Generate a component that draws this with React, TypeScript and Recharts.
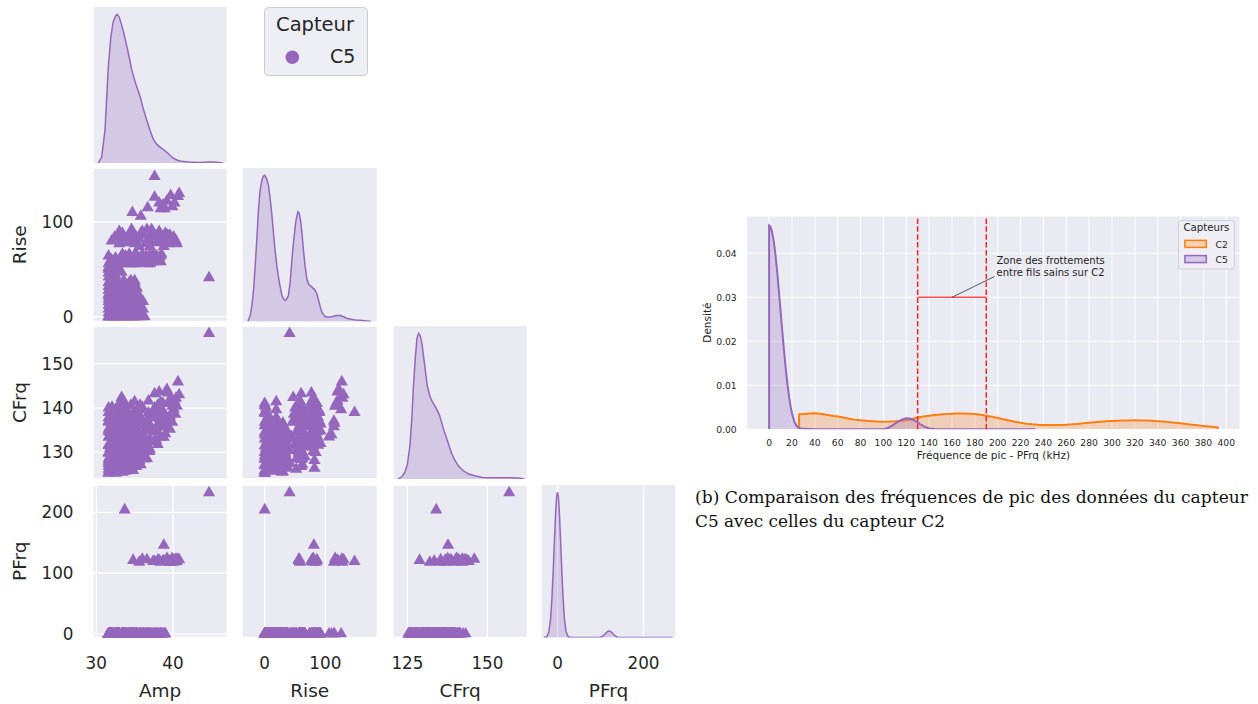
import React from 'react';
import {
  ComposedChart, Scatter, Area, XAxis, YAxis, ZAxis, CartesianGrid,
  ReferenceLine, ReferenceDot, Legend,
} from 'recharts';

const PURPLE = '#9467bd';
const ORANGE = '#ff7f0e';
const PANEL_BG = '#eaeaf2';
const INK = '#262626';
const SANS = '"DejaVu Sans", "Liberation Sans", Arial, sans-serif';
const PAGE_H = 704;

// ---------- Pair plot observations, capteur C5 : [Amp, Rise, CFrq, PFrq]
const lowRiseHits: number[][] = [
  [31.6, 0, 125.3, 0], [32.5, 0, 125.3, 0], [33.4, 0, 125.5, 0], [34.8, 0, 125.9, 0], [35.8, 0, 127.2, 0],
  [36.3, 0, 128.5, 0], [31.6, 0, 128.5, 0], [33.4, 0, 131.5, 0], [35.2, 0, 133, 0], [32.5, 0, 136, 0],
  [31.6, 0, 139, 0], [33.0, 0, 141, 0], [34.5, 0, 140.6, 0], [33.0, 0, 130.0, 0], [34.0, 0, 136.8, 0],
  [31.8, 0, 134.5, 0], [35.0, 0, 129.2, 0], [32.2, 0, 127.0, 0], [34.2, 0, 138.8, 0],
  [34.3, 3, 127.6, 0], [32.5, 3, 130.8, 0], [32.05, 4, 126.2, 0], [35.65, 4, 129.0, 0], [33.85, 4, 132.6, 0],
  [31.6, 4, 133.4, 0], [33.85, 2, 139.4, 0], [32.05, 2, 140.2, 0], [34.75, 2, 138.8, 0],
  [32.95, 6, 127.8, 0], [34.75, 6, 131.8, 0], [32.95, 6, 138.4, 0],
  [31.6, 8, 131.6, 0], [33.4, 8, 128.6, 0], [35.2, 8, 129.6, 0], [36.1, 8, 131, 0], [34.3, 8, 134.5, 0], [32.5, 8, 137.3, 0],
  [33.85, 10, 125.8, 0], [32.05, 10, 129.4, 0], [34.75, 10, 136.2, 0],
  [31.6, 12, 126.9, 0], [32.5, 12, 133.9, 0], [34.3, 12, 130.8, 0], [35.6, 12, 127.6, 0], [33.4, 12, 136.5, 0],
  [34.75, 14, 127.0, 0], [32.95, 14, 131.0, 0],
  [31.6, 16, 134.7, 0], [33.4, 16, 126.9, 0], [35.2, 16, 135, 0], [36.1, 16, 133.5, 0], [32.5, 16, 128.4, 0],
  [31.6, 19, 137.8, 0], [32.5, 19, 139.6, 0], [33.6, 19, 141.4, 0], [34.3, 19, 137.6, 0], [35.2, 19, 131.4, 0],
  [34.3, 19, 126.4, 0], [32.5, 19, 131.6, 0], [33.4, 19, 133.8, 0], [33.0, 19, 129.2, 0], [34.8, 19, 135.4, 0],
  [35.65, 20, 132.2, 0], [32.05, 22, 132.8, 0], [33.85, 22, 135.8, 0], [31.6, 22, 137.0, 0],
  [31.6, 24, 130, 0], [33.4, 24, 130.2, 0], [34.8, 24, 128.6, 0], [32.5, 24, 135.6, 0], [35.3, 24, 136.6, 0],
  [32.95, 26, 134.2, 0],
  [31.6, 28, 125.6, 0], [32.5, 28, 127.2, 0], [33.4, 28, 134.8, 0], [34.3, 28, 132.3, 0], [34.9, 28, 135.8, 0],
  [32.05, 30, 136.6, 0], [33.85, 30, 129.4, 0],
  [32.5, 32, 129.6, 0], [33.4, 32, 127.6, 0], [34.3, 32, 129.4, 0], [31.6, 32, 135.2, 0],
  [32.05, 34, 127.0, 0], [34.75, 34, 133.6, 0],
  [31.6, 36, 128, 0], [32.5, 36, 132.4, 0], [33.4, 36, 135, 0], [34.3, 36, 126.4, 0], [35.0, 36, 131.6, 0],
];

const lowRiseFill: number[][] = [
  [31.8, 2, 126.0, 0], [33.6, 2, 129.0, 0], [35.3, 2, 131.0, 0], [32.7, 2, 134.6, 0], [34.5, 2, 137.0, 0],
  [32.7, 6, 125.8, 0], [34.5, 6, 128.2, 0], [31.8, 6, 130.2, 0], [33.6, 6, 133.4, 0], [35.3, 6, 136.0, 0],
  [33.6, 10, 126.8, 0], [35.3, 10, 128.0, 0], [32.7, 10, 129.6, 0], [31.8, 10, 135.4, 0], [34.5, 10, 132.6, 0],
  [31.8, 14, 128.2, 0], [34.5, 14, 126.2, 0], [33.6, 14, 131.0, 0], [32.7, 14, 136.6, 0], [35.3, 14, 133.8, 0],
  [32.7, 18, 127.0, 0], [35.3, 18, 129.8, 0], [31.8, 18, 132.0, 0], [34.5, 18, 134.2, 0], [33.6, 18, 137.4, 0],
  [33.6, 22, 128.0, 0], [31.8, 22, 126.0, 0], [34.5, 22, 131.2, 0], [32.7, 22, 133.0, 0], [35.3, 22, 135.0, 0],
  [31.8, 26, 129.2, 0], [33.6, 26, 125.8, 0], [34.5, 26, 136.0, 0], [32.7, 26, 131.4, 0], [35.3, 26, 132.8, 0],
  [32.7, 30, 125.6, 0], [34.5, 30, 127.6, 0], [31.8, 30, 133.8, 0], [33.6, 30, 131.8, 0], [35.3, 30, 130.4, 0],
  [33.6, 34, 130.0, 0], [31.8, 34, 131.0, 0], [32.7, 34, 135.0, 0], [34.5, 34, 129.6, 0],
  [31.8, 38, 134.0, 0], [32.7, 38, 126.6, 0], [33.6, 38, 133.0, 0], [34.5, 38, 131.0, 0], [35.0, 38, 128.0, 0],
];

const midRiseHits: number[][] = [
  [31.6, 42, 127.5, 0], [32.5, 44, 133.2, 0], [31.6, 46, 136.8, 0], [32.2, 40, 130.5, 0], [32.9, 48, 138.6, 0],
  [31.6, 52, 126.2, 0], [32.5, 52, 128.5, 0], [31.8, 50, 131.8, 0], [32.7, 52, 134.6, 0], [31.6, 50, 140.0, 0],
  [32.9, 51, 130.4, 0], [33.3, 47, 142.4, 0], [32.2, 48, 137.4, 0], [31.8, 44, 133.6, 0],
  [33.4, 56, 130.2, 0], [34.3, 58, 132.2, 0], [35.2, 56, 134.4, 0], [36.1, 58, 136.2, 0], [37.0, 56, 138.4, 0],
  [33.4, 58, 139.8, 0], [35.2, 60, 126.8, 0], [31.6, 56, 129.8, 0], [32.5, 58, 135.8, 0], [34.3, 56, 137.0, 0],
  [36.1, 60, 129.8, 0], [37.9, 58, 134.6, 0], [33.4, 62, 127.2, 0], [37.0, 60, 130.6, 0], [32.5, 62, 132.2, 0],
  [35.2, 62, 139.2, 0], [36.5, 64, 131.6, 0], [38.2, 62, 137.6, 0], [33.8, 64, 133.4, 0], [37.6, 60, 143.2, 0],
  [31.6, 64, 131.6, 0], [33.4, 66, 136.8, 0], [34.3, 66, 129, 0], [37.0, 66, 133.0, 0], [38.5, 66, 135.8, 0],
  [35.2, 66, 137.6, 0], [36.6, 62, 128.6, 0], [37.5, 66, 132.4, 0], [38.4, 58, 133.4, 0], [37.9, 64, 139.4, 0],
  [36.8, 58, 141.6, 0], [35.7, 62, 140.6, 0], [34.7, 60, 135.0, 0], [36.0, 66, 134.0, 0],
  [32.0, 60, 136.0, 0], [33.0, 60, 128.4, 0], [34.0, 62, 138.2, 0], [34.9, 64, 131.2, 0], [35.8, 58, 138.0, 0],
  [36.9, 62, 135.0, 0], [37.8, 60, 132.8, 0], [38.4, 64, 138.4, 0],
  [34.8, 56, 128.8, 121], [35.6, 58, 132, 118], [36.6, 56, 135.4, 122], [37.4, 58, 138.2, 119], [36.0, 57, 140.2, 123],
];

const highRiseHits: number[][] = [
  [32.0, 80, 131.2, 0], [32.8, 86, 134.6, 0], [33.6, 82, 137.9, 0], [34.4, 88, 133.0, 0], [35.2, 84, 135.4, 0],
  [36.0, 90, 137.0, 0], [36.8, 82, 138.9, 0], [37.6, 86, 140.0, 0], [38.4, 80, 141.3, 0], [39.0, 88, 136.4, 0],
  [33.0, 90, 139.3, 0], [34.6, 92, 136.4, 0], [37.2, 92, 134.8, 0],
  [33.3, 82, 126.4, 0], [35.6, 82, 128.2, 0], [34.2, 84, 130.0, 0],
  [33.0, 77, 140.6, 0], [35.0, 77, 141.4, 0],
  [36.4, 77, 132.6, 0], [38.0, 78, 131.8, 0], [37.0, 74, 136.2, 0], [38.8, 74, 139.0, 0], [35.6, 74, 134.0, 0],
  [38.6, 84, 138.6, 0], [37.3, 88, 137.8, 0], [36.2, 86, 133.8, 0], [36.9, 80, 130.2, 0], [34.0, 78, 138.4, 0],
  [32.4, 84, 136.0, 0], [33.4, 88, 131.6, 0], [34.8, 80, 137.2, 0], [35.8, 88, 139.6, 0], [36.6, 92, 132.0, 0],
  [37.8, 84, 135.6, 0], [38.2, 90, 139.0, 0], [39.0, 82, 134.2, 0],
  [39.4, 77, 143.4, 120], [38.8, 78, 133.4, 120], [39.6, 80, 135.2, 118], [40.3, 78, 138.6, 122],
  [39.2, 80, 137.6, 124], [38.0, 79, 140.6, 121], [40.5, 77, 140.4, 119], [40.4, 80, 142.2, 123],
  [39.6, 86, 138.2, 120], [39.3, 86, 141.0, 122], [39.9, 79, 136.8, 121], [40.1, 84, 139.8, 118],
  [38.8, 81, 137.7, 146],
];

const longRiseHits: number[][] = [
  [34.7, 110, 134.0, 0], [36.7, 115, 136.6, 0], [37.6, 126, 139.6, 0], [38.9, 114, 135.8, 0], [35.8, 106, 133.5, 0],
  [38.7, 118, 141.0, 120], [39.7, 128, 142.2, 118], [40.8, 130, 143.0, 122], [37.6, 148, 139.0, 119],
  [38.2, 120, 143.6, 121], [39.2, 122, 144.2, 119], [39.9, 116, 140.4, 124], [40.2, 120, 141.6, 120],
  [38.4, 114, 137.0, 118], [40.65, 127, 145.9, 123],
];

const isolatedHits: number[][] = [
  [44.7, 41, 156.8, 232], [33.7, 0, 134.0, 204],
];

const OBS = [...lowRiseHits, ...lowRiseFill, ...midRiseHits, ...highRiseHits, ...longRiseHits, ...isolatedHits]
  .map(([amp, rise, cfrq, pfrq]) => ({ amp, rise, cfrq, pfrq }));

// ---------- Diagonal densities (normalised height) : [value, density]
const ampDensity: number[][] = [
  [30.26, 0], [30.7, 0.04], [31.13, 0.22], [31.57, 0.65], [31.9, 0.85], [32.2, 0.95], [32.5, 0.99], [32.74, 1.0],
  [33.0, 0.98], [33.3, 0.93], [33.6, 0.87], [33.96, 0.79], [34.3, 0.71], [34.6, 0.63], [35.1, 0.54], [35.7, 0.45],
  [36.1, 0.37], [36.57, 0.29], [37.0, 0.22], [37.43, 0.16], [37.9, 0.125], [38.3, 0.107], [38.8, 0.088],
  [39.2, 0.072], [39.6, 0.052], [40.0, 0.034], [40.5, 0.02], [41.1, 0.011], [42, 0.006], [43.5, 0.004],
  [44.5, 0.006], [45.25, 0.007], [46, 0.004], [46.5, 0],
];
const riseDensity: number[][] = [
  [-27.7, 0], [-24, 0.04], [-21, 0.11], [-18, 0.23], [-15.7, 0.38], [-13, 0.56], [-10.2, 0.77], [-7.5, 0.9],
  [-4.7, 0.966], [-2, 0.995], [0, 1.0], [3, 0.98], [6.3, 0.93], [9, 0.84], [11.8, 0.73], [15, 0.58], [17.5, 0.47],
  [20, 0.38], [24, 0.27], [28.3, 0.18], [31, 0.155], [33.8, 0.144], [36.5, 0.155], [39.2, 0.18], [42, 0.27],
  [44, 0.38], [46.5, 0.5], [49, 0.6], [51.5, 0.69], [54.7, 0.75], [57, 0.74], [59, 0.69], [61.3, 0.61], [64, 0.48],
  [66.5, 0.38], [69.5, 0.29], [72.5, 0.255], [77.8, 0.235], [82, 0.22], [86, 0.19], [89, 0.14], [91.5, 0.1],
  [94.3, 0.064], [98, 0.04], [101.5, 0.031], [105, 0.03], [110, 0.032], [115, 0.038], [120, 0.041], [124.6, 0.041],
  [130, 0.033], [134, 0.024], [138, 0.018], [145, 0.013], [150, 0.01], [157, 0.008], [165, 0.005], [175, 0],
];
const cfrqDensity: number[][] = [
  [122.1, 0], [123.2, 0.015], [124.2, 0.046], [125, 0.1], [125.8, 0.23], [126.4, 0.42], [126.9, 0.64], [127.5, 0.84],
  [128, 0.966], [128.5, 1.0], [129, 0.985], [129.6, 0.92], [130.4, 0.78], [131.2, 0.64], [132, 0.57], [132.8, 0.53],
  [133.9, 0.49], [135, 0.44], [135.8, 0.38], [136.6, 0.32], [137.7, 0.25], [138.75, 0.18], [139.8, 0.13],
  [140.9, 0.09], [142.5, 0.055], [144.2, 0.034], [146.3, 0.02], [148.5, 0.011], [152, 0.008], [155, 0.008],
  [157, 0.009], [159, 0.007], [160.3, 0.005], [161.5, 0],
];
const pfrqDensity: number[][] = [
  [-32, 0], [-25, 0.005], [-20, 0.04], [-16, 0.13], [-13, 0.27], [-10, 0.46], [-7, 0.68], [-4, 0.88], [-2, 0.97],
  [0, 1], [2, 0.97], [4, 0.88], [7, 0.68], [10, 0.46], [13, 0.27], [16, 0.13], [20, 0.04], [25, 0.005], [32, 0],
  [100, 0.002], [106, 0.011], [110, 0.022], [114, 0.035], [118, 0.044], [120, 0.045], [122, 0.044], [126, 0.035],
  [130, 0.022], [134, 0.011], [140, 0.002], [146, 0], [268, 0],
];

// ---------- Peak frequency densities (right chart) : [PFrq kHz, density]
const c2Density: number[][] = [
  [26.2, 0], [26.2, 0.0034], [30, 0.00348], [35, 0.00358], [40, 0.00362], [45, 0.00355], [50, 0.0033],
  [55, 0.0031], [60, 0.0029], [65, 0.0027], [70, 0.0024], [75, 0.0022], [80, 0.00205], [85, 0.00193],
  [90, 0.00185], [95, 0.00178], [100, 0.00174], [105, 0.00175], [110, 0.0018], [115, 0.00192], [120, 0.00208],
  [125, 0.00235], [130, 0.0027], [135, 0.0029], [140, 0.0031], [145, 0.00325], [150, 0.00338], [155, 0.00348],
  [160, 0.00356], [165, 0.0036], [170, 0.0036], [175, 0.00356], [180, 0.00346], [185, 0.0033], [190, 0.0031],
  [195, 0.00285], [200, 0.00257], [205, 0.00228], [210, 0.002], [215, 0.00172], [220, 0.00148], [225, 0.00128],
  [230, 0.00113], [235, 0.00103], [240, 0.00097], [245, 0.00095], [250, 0.00096], [255, 0.00099], [260, 0.00104],
  [265, 0.00112], [270, 0.00123], [275, 0.00136], [280, 0.00149], [285, 0.00161], [290, 0.00172], [295, 0.00182],
  [300, 0.0019], [305, 0.00196], [310, 0.002], [315, 0.00202], [320, 0.00203], [325, 0.00202], [330, 0.00199],
  [335, 0.00193], [340, 0.00185], [345, 0.00175], [350, 0.00163], [355, 0.0015], [360, 0.00135], [365, 0.0012],
  [370, 0.00104], [375, 0.0009], [380, 0.00075], [385, 0.00062], [390, 0.0005], [392.5, 0.00045], [392.5, 0],
];
const c5Density: number[][] = [
  [0, 0], [0, 0.0463], [1, 0.0461], [2.5, 0.045], [4, 0.0428], [5.5, 0.0398], [7, 0.036], [8.5, 0.0316],
  [10, 0.027], [11.5, 0.0224], [13, 0.018], [14.5, 0.0139], [16, 0.0103], [17.5, 0.0073], [19, 0.0049],
  [20.5, 0.0031], [22, 0.0018], [24, 0.0008], [26, 0.0003], [30, 0.0001], [40, 0], [100, 0], [104, 0.0003],
  [108, 0.0009], [112, 0.0016], [116, 0.0022], [120, 0.0025], [124, 0.0024], [128, 0.0019], [132, 0.0012],
  [136, 0.0006], [140, 0.0002], [145, 0.00005], [150, 0], [233, 0],
];
const FREQ_TICKS = [0, 20, 40, 60, 80, 100, 120, 140, 160, 180, 200, 220, 240, 260, 280, 300, 320, 340, 360, 380, 400];
const DENSITY_TICKS = [0, 0.01, 0.02, 0.03, 0.04];
const ZONE_LIMITS = [130, 190];
const ZONE_LEVEL = 0.03;

// ---------- Pair plot layout
const VARS = ['amp', 'rise', 'cfrq', 'pfrq'];
const VAR_LABELS = ['Amp', 'Rise', 'CFrq', 'PFrq'];
const X_TICKS: Record<string, number[]> = { amp: [30, 40], rise: [0, 100], cfrq: [125, 150], pfrq: [0, 200] };
const Y_TICKS: Record<string, number[]> = { rise: [0, 100], cfrq: [130, 140, 150], pfrq: [0, 100, 200] };
const X_DOMAIN: Record<string, [number, number]> = {
  amp: [29.57, 47.08], rise: [-37.4, 185.7], cfrq: [120.5, 162.5], pfrq: [-38.4, 275.6],
};
const Y_DOMAIN: Record<string, [number, number]> = {
  rise: [-5.1, 157], cfrq: [124, 158.5], pfrq: [-5.8, 244.9],
};
const DIAG_DATA: Record<string, { x: number; h: number }[]> = {
  amp: ampDensity.map(([x, h]) => ({ x, h })),
  rise: riseDensity.map(([x, h]) => ({ x, h })),
  cfrq: cfrqDensity.map(([x, h]) => ({ x, h })),
  pfrq: pfrqDensity.map(([x, h]) => ({ x, h })),
};
const COLS = [{ l: 93, w: 134.3 }, { l: 242.3, w: 135.4 }, { l: 393.3, w: 134.4 }, { l: 540.5, w: 135 }];
const ROWS = [{ t: 7, h: 156 }, { t: 168, h: 153.5 }, { t: 326, h: 153 }, { t: 485, h: 152.5 }];
const TICK_FS = 16.8;
const LABEL_FS = 18.5;

function PairLegend() {
  return (
    <svg width={105} height={70} style={{ display: 'block', overflow: 'visible' }}>
      <rect x={0.5} y={0.5} width={103} height={68} rx={4} fill="#eeeef5" stroke="#cccccc" />
      <text x={51} y={23.5} textAnchor="middle" fontSize={19.5} fill={INK} fontFamily={SANS}>Capteur</text>
      <circle cx={28.3} cy={50.2} r={6.8} fill={PURPLE} />
      <text x={66} y={55.5} fontSize={19} fill={INK} fontFamily={SANS}>C5</text>
    </svg>
  );
}

function PairPanel({ r, c }: { r: number; c: number }) {
  const col = COLS[c];
  const row = ROWS[r];
  const showY = c === 0 && r > 0;
  const showX = r === 3;
  const yW = showY ? col.l : 0;
  const xH = showX ? PAGE_H - (row.t + row.h) : 0;
  const padV = showY && !showX ? 14 : 0;
  const padL = showX && c > 0 ? 20 : 0;
  const padR = showX ? 20 : 0;
  const W = col.w + yW + padL + padR;
  const H = row.h + xH + 2 * padV;
  const xv = VARS[c];
  const yv = VARS[r];
  const diag = r === c;
  const tickStyle = { fontSize: TICK_FS, fill: INK, fontFamily: SANS };
  return (
    <div style={{ position: 'absolute', left: col.l - yW - padL, top: row.t - padV, width: W, height: H }}>
      <ComposedChart width={W} height={H} margin={{ top: padV, right: padR, bottom: padV, left: padL }}
        data={diag ? DIAG_DATA[xv] : undefined}>
        <CartesianGrid fill={PANEL_BG} fillOpacity={1} stroke="#ffffff" strokeWidth={1.3} horizontal={!diag} />
        <XAxis type="number" dataKey={diag ? 'x' : xv} domain={X_DOMAIN[xv]} allowDataOverflow
          ticks={X_TICKS[xv]} interval={0} height={xH} tick={showX ? tickStyle : false}
          tickSize={0} tickMargin={19.5} axisLine={false} tickLine={false}
          label={showX ? () => (
            <text x={padL + yW + col.w / 2} y={row.h + 59.5} textAnchor="middle" fontSize={LABEL_FS}
              fill={INK} fontFamily={SANS}>{VAR_LABELS[c]}</text>
          ) : undefined} />
        <YAxis type="number" dataKey={diag ? 'h' : yv} domain={diag ? [0, 1.05] : Y_DOMAIN[yv]} allowDataOverflow
          ticks={diag ? [0] : Y_TICKS[yv]} interval={0} width={yW} tick={showY ? tickStyle : false}
          tickSize={0} tickMargin={19.5} axisLine={false} tickLine={false}
          label={showY ? () => (
            <text x={26.5} y={padV + row.h / 2} transform={`rotate(-90 26.5 ${padV + row.h / 2})`} textAnchor="middle"
              fontSize={LABEL_FS} fill={INK} fontFamily={SANS}>{VAR_LABELS[r]}</text>
          ) : undefined} />
        {!diag && <ZAxis type="number" range={[54, 54]} />}
        {diag && (
          <Area type="linear" dataKey="h" stroke={PURPLE} strokeWidth={1.5} fill={PURPLE} fillOpacity={0.25}
            dot={false} activeDot={false} isAnimationActive={false} />
        )}
        {!diag && <Scatter data={OBS} fill={PURPLE} shape="triangle" isAnimationActive={false} />}
        {r === 0 && c === 0 && (
          <Legend layout="horizontal" verticalAlign="middle" align="center"
            wrapperStyle={{ position: 'absolute', left: 171, top: -0.5, width: 105, height: 70, margin: 0, padding: 0 }}
            content={() => <PairLegend />} />
        )}
      </ComposedChart>
    </div>
  );
}

// ---------- Right chart
const freqRows = [
  ...c2Density.map(([x, d]) => ({ x, c2: d } as { x: number; c2?: number; c5?: number })),
  ...c5Density.map(([x, d]) => ({ x, c5: d } as { x: number; c2?: number; c5?: number })),
].sort((a, b) => a.x - b.x);

function FreqLegend() {
  return (
    <svg width={57} height={50} style={{ display: 'block', overflow: 'visible' }}>
      <rect x={0.5} y={0.5} width={56} height={48.5} rx={2.5} fill="#eeeef4" stroke="#cccccc" strokeWidth={0.8} />
      <text x={28.4} y={11.3} textAnchor="middle" fontSize={10.2} fill={INK} fontFamily={SANS}>Capteurs</text>
      <rect x={6.9} y={20.4} width={21.4} height={7} fill="#f5d0b2" stroke={ORANGE} strokeWidth={1.5} />
      <text x={37.5} y={28.3} fontSize={9.2} fill={INK} fontFamily={SANS}>C2</text>
      <rect x={6.9} y={35.6} width={21.4} height={7} fill="#d6cbe6" stroke={PURPLE} strokeWidth={1.5} />
      <text x={37.5} y={43.3} fontSize={9.2} fill={INK} fontFamily={SANS}>C5</text>
    </svg>
  );
}

function FreqChart() {
  const W = 568;
  const H = 264.3;
  const tick = { fontSize: 9.2, fill: INK, fontFamily: SANS };
  return (
    <div style={{ position: 'absolute', left: 690, top: 205, width: W, height: H }}>
      <ComposedChart width={W} height={H} data={freqRows} margin={{ top: 11, right: 18, bottom: 0, left: 0 }}>
        <CartesianGrid fill={PANEL_BG} fillOpacity={1} stroke="#ffffff" strokeWidth={1} />
        <XAxis type="number" dataKey="x" domain={[-19.6, 412]} allowDataOverflow ticks={FREQ_TICKS} interval={0}
          height={40} tick={tick} tickSize={0} tickMargin={10.4} axisLine={false} tickLine={false}
          label={() => (
            <text x={56.7 + 493.3 / 2} y={254.3} textAnchor="middle" fontSize={10.5} fill={INK}
              fontFamily={SANS}>Fréquence de pic - PFrq (kHz)</text>
          )} />
        <YAxis type="number" domain={[0, 0.04848]} allowDataOverflow ticks={DENSITY_TICKS} interval={0}
          tickFormatter={(v: number) => v.toFixed(2)} width={56.7} tick={tick} tickSize={0} tickMargin={10}
          axisLine={false} tickLine={false}
          label={() => (
            <text x={21} y={117.6} transform="rotate(-90 21 117.6)" textAnchor="middle" fontSize={10.5}
              fill={INK} fontFamily={SANS}>Densité</text>
          )} />
        <Area type="linear" dataKey="c2" stroke={ORANGE} strokeWidth={2} fill={ORANGE} fillOpacity={0.25}
          connectNulls dot={false} activeDot={false} isAnimationActive={false} />
        <Area type="linear" dataKey="c5" stroke={PURPLE} strokeWidth={2} fill={PURPLE} fillOpacity={0.25}
          connectNulls dot={false} activeDot={false} isAnimationActive={false} />
        <ReferenceLine x={ZONE_LIMITS[0]} stroke="#f52a2a" strokeWidth={1.5} strokeDasharray="5.5 2.4" />
        <ReferenceLine x={ZONE_LIMITS[1]} stroke="#f52a2a" strokeWidth={1.5} strokeDasharray="5.5 2.4" />
        <ReferenceLine segment={[{ x: ZONE_LIMITS[0], y: ZONE_LEVEL }, { x: ZONE_LIMITS[1], y: ZONE_LEVEL }]}
          stroke="#ff5050" strokeWidth={1.5} />
        <ReferenceLine segment={[{ x: 160, y: ZONE_LEVEL }, { x: 197, y: 0.0347 }]} stroke="#333333" strokeWidth={0.8} />
        <ReferenceDot x={199} y={0.03757} r={0}
          shape={(p: any) => (
            <text x={p.cx} y={p.cy} fontSize={10} fill={INK} fontFamily={SANS}>
              <tspan x={p.cx}>Zone des frottements</tspan>
              <tspan x={p.cx} dy={12.3}>entre fils sains sur C2</tspan>
            </text>
          )} />
        <Legend layout="horizontal" verticalAlign="middle" align="center"
          wrapperStyle={{ position: 'absolute', left: 488.3, top: 15, width: 57, height: 50, margin: 0, padding: 0 }}
          content={() => <FreqLegend />} />
      </ComposedChart>
    </div>
  );
}

const PANELS: { r: number; c: number }[] = [];
for (let r = 0; r < 4; r++) for (let c = 0; c <= r; c++) PANELS.push({ r, c });

export default function App() {
  return (
    <div style={{ position: 'absolute', left: 0, top: 0, width: 1258, height: 704, background: '#ffffff', fontFamily: SANS }}>
      {PANELS.map(({ r, c }) => <PairPanel key={`${r}-${c}`} r={r} c={c} />)}
      <FreqChart />
      <svg style={{ position: 'absolute', left: 690, top: 480 }} width={568} height={60}>
        <text x={5} y={23} fontFamily='"DejaVu Serif", serif' fontSize={16.5} textLength={553}
          lengthAdjust="spacingAndGlyphs" fill="#111111">(b) Comparaison des fréquences de pic des données du capteur</text>
        <text x={5} y={47} fontFamily='"DejaVu Serif", serif' fontSize={16.5} textLength={250}
          lengthAdjust="spacingAndGlyphs" fill="#111111">C5 avec celles du capteur C2</text>
      </svg>
    </div>
  );
}
